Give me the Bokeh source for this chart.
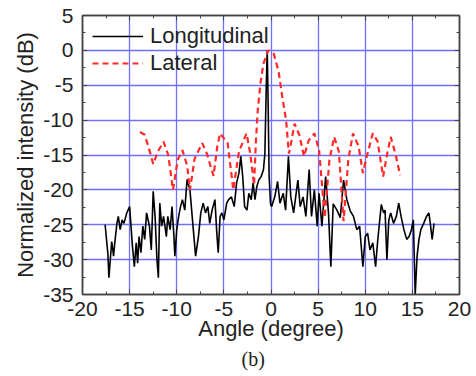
from bokeh.plotting import figure
from bokeh.models import (Range1d, LinearAxis, SingleIntervalTicker, Legend, LegendItem, Title)
from bokeh.embed import file_html
from bokeh.resources import INLINE

# ---- data ----
long_angle = [-17.6, -17.5, -17.3, -17.2, -16.9, -16.7, -16.6, -16.35, -16.2, -16.0, -15.8, -15.6,
              -15.3, -15.0, -14.9, -14.7, -14.5, -14.3, -14.15, -14.0, -13.8, -13.6, -13.4, -13.2,
              -12.9, -12.7, -12.5, -12.3, -12.1, -11.95, -11.8, -11.6, -11.4, -11.1, -10.95, -10.7,
              -10.5, -10.3, -10.2, -10.0, -9.8, -9.6, -9.4, -9.15, -8.9, -8.6, -8.3, -8.0, -7.7,
              -7.45, -7.2, -6.95, -6.7, -6.5, -6.25, -5.95, -5.75, -5.6, -5.4, -5.2, -5.0, -4.7,
              -4.5, -4.2, -3.9, -3.65, -3.4, -3.2, -3.0, -2.8, -2.55, -2.35, -2.1, -1.9, -1.7, -1.5,
              -1.3, -1.05, -0.8, -0.65, -0.5, -0.4, -0.3, -0.2, -0.05, 0.07, 0.4, 0.7, 0.95, 1.3,
              1.55, 1.85, 2.1, 2.4, 2.85, 3.1, 3.4, 3.7, 4.05, 4.3, 4.6, 4.9, 5.1, 5.4, 5.8, 6.1,
              6.35, 6.6, 7.0, 7.35, 7.7, 8.05, 8.4, 8.75, 9.1, 9.4, 9.75, 10.0, 10.25, 10.5, 10.8,
              11.1, 11.3, 11.7, 11.95, 12.1, 12.3, 12.5, 12.7, 13.0, 13.3, 13.55, 13.8, 14.1, 14.4,
              14.65, 14.9, 15.1, 15.3, 15.5, 15.7, 15.9, 16.2, 16.5, 16.75, 16.9, 17.1, 17.3]
long_db = [-25.0, -26.4, -29.3, -32.6, -27.4, -29.5, -27.9, -24.8, -23.8, -25.7, -24.3, -24.8,
           -23.3, -22.4, -24.3, -28.1, -31.0, -27.6, -30.5, -26.7, -29.0, -25.2, -27.1, -23.3,
           -25.2, -28.6, -20.2, -23.8, -30.0, -32.6, -21.9, -25.2, -23.8, -26.7, -23.8, -25.7,
           -22.4, -26.7, -29.5, -25.7, -23.8, -22.4, -21.4, -22.9, -18.5, -20.0, -24.8, -29.5, -26.7,
           -23.3, -21.9, -23.3, -22.4, -24.8, -22.9, -21.4, -26.2, -29.0, -23.8, -23.3, -24.3, -21.9,
           -21.4, -21.0, -22.4, -19.0, -17.6, -15.2, -18.1, -22.4, -22.9, -20.5, -21.4, -19.0, -21.4, -19.5,
           -18.6, -18.1, -17.1, -14.8, -5.0, 0.0, -8.0, -18.0, -22.0, -22.4, -21.0, -18.8, -21.9, -20.5,
           -22.9, -15.2, -21.0, -23.3, -18.6, -22.4, -21.0, -23.8, -17.1, -23.8, -20.0, -25.2, -20.5, -25.2, -18.1, -23.3,
           -31.0, -22.0, -22.9, -24.0, -18.6, -21.4, -23.0, -23.8, -25.7, -25.2, -31.0, -26.7, -26.2, -28.6, -27.6,
           -31.0, -27.6, -22.1, -23.3, -22.9, -30.0, -24.3, -23.3, -24.8, -23.8, -21.9, -23.8, -25.7, -27.1,
           -26.7, -25.7, -24.3, -35.0, -29.5, -27.1, -25.7, -24.8, -23.8, -23.3, -24.8, -27.1, -24.8]

lat_angle = [-13.9, -13.4, -12.9, -12.5, -12.0, -11.4, -10.9, -10.4, -9.9, -9.4, -8.9, -8.6, -8.1,
             -7.3, -6.8, -6.1, -5.7, -5.4, -4.6, -4.0, -3.4, -2.6, -2.2, -1.8, -1.6, -1.4, -1.1,
             -0.8, -0.3, 0.3, 0.8, 1.2, 1.6, 1.9, 2.1, 2.5, 3.0, 3.5, 4.0, 4.6, 5.1, 5.7, 6.2,
             6.7, 7.2, 7.7, 8.2, 8.7, 9.3, 9.75, 10.2, 10.8, 11.3, 11.9, 12.3, 12.7, 13.2, 13.7]
lat_db = [-11.7, -12.1, -14.3, -16.3, -14.5, -13.1, -15.0, -20.0, -15.7, -14.3, -16.5, -20.0, -15.5,
          -13.3, -14.8, -18.0, -13.8, -11.9, -13.3, -20.0, -14.5, -11.9, -14.8, -19.3, -13.0, -8.5, -4.5,
          -1.9, 0.0, -0.5, -3.0, -6.7, -10.0, -14.8, -13.5, -10.5, -12.1, -15.2, -12.9, -11.9, -14.3, -24.0, -15.7,
          -12.4, -14.5, -24.5, -15.7, -11.9, -13.8, -17.6, -15.0, -11.9, -13.0, -18.1, -15.0, -12.4, -14.8, -17.9]

series_names = ["Longitudinal", "Lateral"]
x_ticks = [-20, -15, -10, -5, 0, 5, 10, 15, 20]
x_tick_labels = ["-20", "-15", "-10", "-5", "0", "5", "10", "15", "20"]
y_ticks = [-35, -30, -25, -20, -15, -10, -5, 0, 5]
y_tick_labels = ["-35", "-30", "-25", "-20", "-15", "-10", "-5", "0", "5"]
x_title = "Angle (degree)"
y_title = "Normalized intensity (dB)"
panel_tag = "(b)"

FONT = "Liberation Sans"
FRAME = "#444444"
GRID = "#7070ff"

p = figure(width=476, height=376, output_backend="svg", toolbar_location=None,
           x_range=Range1d(-20, 20), y_range=Range1d(-35, 5),
           x_axis_label=x_title, y_axis_label=y_title)
p.min_border_left = 82
p.min_border_right = 17
p.min_border_top = 15
p.min_border_bottom = 82
p.background_fill_color = "white"
p.border_fill_color = "white"
p.outline_line_color = FRAME
p.outline_line_width = 1.5

for ax, ticks, labels in ((p.xaxis[0], x_ticks, x_tick_labels), (p.yaxis[0], y_ticks, y_tick_labels)):
    ax.ticker = SingleIntervalTicker(interval=5, num_minor_ticks=2)
    ax.major_label_overrides = {t: l for t, l in zip(ticks, labels)}
    ax.major_label_text_font = FONT
    ax.major_label_text_font_size = "21px"
    ax.major_label_text_color = "#222222"
    ax.axis_label_text_font = FONT
    ax.axis_label_text_font_size = "22px"
    ax.axis_label_text_font_style = "normal"
    ax.axis_label_text_color = "#222222"
    ax.axis_line_color = FRAME
    ax.axis_line_width = 1.5
    ax.major_tick_line_color = FRAME
    ax.minor_tick_line_color = FRAME
    ax.major_tick_in = 5
    ax.major_tick_out = 0
    ax.minor_tick_in = 3
    ax.minor_tick_out = 0

p.xaxis[0].major_label_standoff = 7
p.xaxis[0].axis_label_standoff = -3
p.yaxis[0].major_label_standoff = 9
p.yaxis[0].axis_label_standoff = 2

for side in ("above", "right"):
    ax = LinearAxis(ticker=SingleIntervalTicker(interval=5, num_minor_ticks=2))
    ax.major_label_text_font_size = "0px"
    ax.major_label_text_color = None
    ax.major_label_text_alpha = 0
    ax.major_label_standoff = 0
    ax.axis_line_color = FRAME
    ax.axis_line_width = 1.5
    ax.major_tick_line_color = FRAME
    ax.minor_tick_line_color = FRAME
    ax.major_tick_in = 5
    ax.major_tick_out = 0
    ax.minor_tick_in = 3
    ax.minor_tick_out = 0
    p.add_layout(ax, side)

p.xgrid.ticker = SingleIntervalTicker(interval=5)
p.ygrid.ticker = SingleIntervalTicker(interval=5)
p.grid.grid_line_color = GRID
p.grid.grid_line_width = 1.3
p.grid.grid_line_alpha = 1.0

r_long = p.line(long_angle, long_db, line_color="black", line_width=1.6)
r_lat = p.line(lat_angle, lat_db, line_color="#ff2a2a", line_width=2.2, line_dash="6 4")

legend = Legend(items=[LegendItem(label=series_names[0], renderers=[r_long]),
                       LegendItem(label=series_names[1], renderers=[r_lat])],
                location=(10, 218), margin=0, padding=0, spacing=1,
                glyph_width=51, glyph_height=26, label_height=26, label_standoff=7,
                label_text_font=FONT, label_text_font_size="22px", label_text_color="#222222",
                background_fill_alpha=0, border_line_alpha=0)
p.add_layout(legend)

p.add_layout(Title(text=panel_tag, align="left", offset=159, standoff=5,
                   text_font="Liberation Serif", text_font_size="20px",
                   text_font_style="normal", text_color="#222222"), "below")

open("out.html", "w").write(file_html(p, INLINE))
